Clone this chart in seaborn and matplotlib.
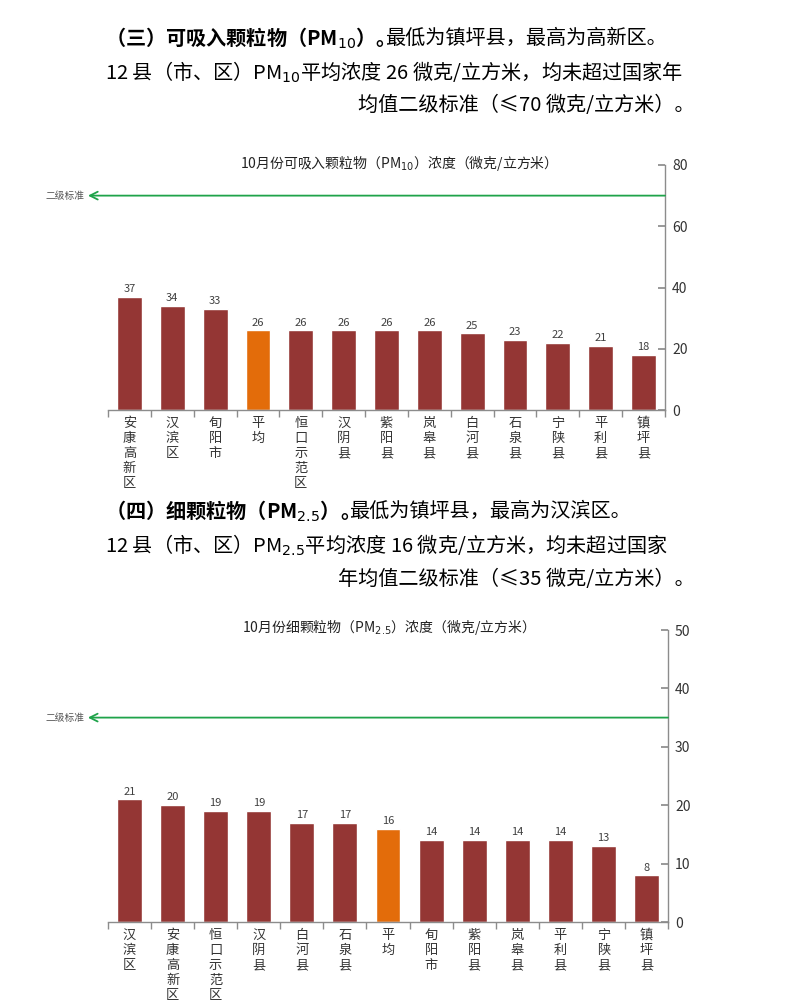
import numpy as np
import pandas as pd
import seaborn as sns
import matplotlib
matplotlib.use("Agg")
import matplotlib.pyplot as plt
from matplotlib import transforms

sns.set_theme(style="white")
plt.rcParams['font.family'] = ['Noto Sans CJK SC', 'DejaVu Sans']
plt.rcParams['axes.unicode_minus'] = False

# ---- data ----
pm10_areas = ["安康高新区", "汉滨区", "旬阳市", "平均", "恒口示范区", "汉阴县", "紫阳县",
              "岚皋县", "白河县", "石泉县", "宁陕县", "平利县", "镇坪县"]
pm10_values = [37, 34, 33, 26, 26, 26, 26, 26, 25, 23, 22, 21, 18]
pm10_standard = 70
pm10_yticks = [0, 20, 40, 60, 80]
pm10_title = "10月份可吸入颗粒物（PM$_{10}$）浓度（微克/立方米）"

pm25_areas = ["汉滨区", "安康高新区", "恒口示范区", "汉阴县", "白河县", "石泉县", "平均",
              "旬阳市", "紫阳县", "岚皋县", "平利县", "宁陕县", "镇坪县"]
pm25_values = [21, 20, 19, 19, 17, 17, 16, 14, 14, 14, 14, 13, 8]
pm25_standard = 35
pm25_yticks = [0, 10, 20, 30, 40, 50]
pm25_title = "10月份细颗粒物（PM$_{2.5}$）浓度（微克/立方米）"

standard_label = "二级标准"

para1_head = "（三）可吸入颗粒物（PM$_{10}$）。"
para1_lines = ["最低为镇坪县，最高为高新区。",
               "12 县（市、区）PM$_{10}$平均浓度 26 微克/立方米，均未超过国家年",
               "均值二级标准（≤70 微克/立方米）。"]
para2_head = "（四）细颗粒物（PM$_{2.5}$）。"
para2_lines = ["最低为镇坪县，最高为汉滨区。",
               "12 县（市、区）PM$_{2.5}$平均浓度 16 微克/立方米，均未超过国家",
               "年均值二级标准（≤35 微克/立方米）。"]

BAR = "#943634"
AVG = "#E36C0A"
GREEN = "#1FA34A"
GRAY = "#8C8C8C"
TEXT_SIZE = 14.5

W, H = 800, 1007
fig = plt.figure(figsize=(W / 100, H / 100), dpi=100)
fig.patch.set_facecolor("white")


def fx(px):
    return px / W


def fy(py):
    return 1 - py / H


def draw_chart(ax, areas, values, standard, yticks, title, title_xy):
    n = len(areas)
    df = pd.DataFrame({"area": areas, "value": values})
    colors = [AVG if a == "平均" else BAR for a in areas]
    sns.barplot(data=df, x="area", y="value", hue="area", palette=colors,
                legend=False, width=0.58, saturation=1, ax=ax)
    ax.set_xlim(-0.5, n - 0.5)
    ax.set_ylim(0, yticks[-1])
    ax.set_xlabel("")
    ax.set_ylabel("")

    for c in ax.containers:
        ax.bar_label(c, padding=2, fontsize=8, color="#404040")

    # axes on the right side, as in the picture
    ax.yaxis.tick_right()
    ax.set_yticks(yticks)
    ax.tick_params(axis="y", right=True, left=False, direction="in", length=5,
                   color=GRAY, labelsize=10, pad=5, labelcolor="#333333")
    for s in ["left", "top"]:
        ax.spines[s].set_visible(False)
    for s in ["right", "bottom"]:
        ax.spines[s].set_color(GRAY)
        ax.spines[s].set_linewidth(1)

    # vertical category names, one character per line
    ax.set_xticks(range(n))
    ax.set_xticklabels(["\n".join(a) for a in areas], fontsize=9.5,
                       linespacing=1.2, color="#333333", va="top")
    ax.set_xticks(np.arange(-0.5, n), minor=True)
    ax.tick_params(axis="x", which="major", bottom=True, length=0, pad=5)
    ax.tick_params(axis="x", which="minor", bottom=True, length=5,
                   direction="out", color=GRAY)

    # standard line with arrow
    ax.annotate("", xy=(-0.036, standard), xycoords=("axes fraction", "data"),
                xytext=(1.0, standard), textcoords=("axes fraction", "data"),
                arrowprops=dict(arrowstyle="->", color=GREEN, lw=1.3,
                                mutation_scale=14, shrinkA=0, shrinkB=0),
                annotation_clip=False)
    trans = transforms.blended_transform_factory(ax.transAxes, ax.transData)
    ax.text(-0.042, standard, standard_label, transform=trans, ha="right",
            va="center", fontsize=7, color="#555555")

    fig.text(fx(title_xy[0]), fy(title_xy[1]), title, ha="center", va="center",
             fontsize=10, color="#222222")


ax1 = fig.add_axes([fx(108), fy(410), fx(665) - fx(108), fy(165) - fy(410)])
draw_chart(ax1, pm10_areas, pm10_values, pm10_standard, pm10_yticks,
           pm10_title, (395, 163))

ax2 = fig.add_axes([fx(108), fy(922), fx(668) - fx(108), fy(630) - fy(922)])
draw_chart(ax2, pm25_areas, pm25_values, pm25_standard, pm25_yticks,
           pm25_title, (385, 627))


def draw_paragraph(head, lines, y0):
    renderer = fig.canvas.get_renderer()
    t = fig.text(fx(105), fy(y0), head, ha="left", va="center",
                 fontsize=TEXT_SIZE, fontweight="bold", color="black")
    bb = t.get_window_extent(renderer)
    fig.text(bb.x1 / W, fy(y0), lines[0], ha="left", va="center",
             fontsize=TEXT_SIZE, color="black")
    fig.text(fx(105), fy(y0 + 34), lines[1], ha="left", va="center",
             fontsize=TEXT_SIZE, color="black")
    fig.text(fx(695), fy(y0 + 68), lines[2], ha="right", va="center",
             fontsize=TEXT_SIZE, color="black")


draw_paragraph(para1_head, para1_lines, 38)
draw_paragraph(para2_head, para2_lines, 511)

fig.savefig("out.png", dpi=100, facecolor="white")
